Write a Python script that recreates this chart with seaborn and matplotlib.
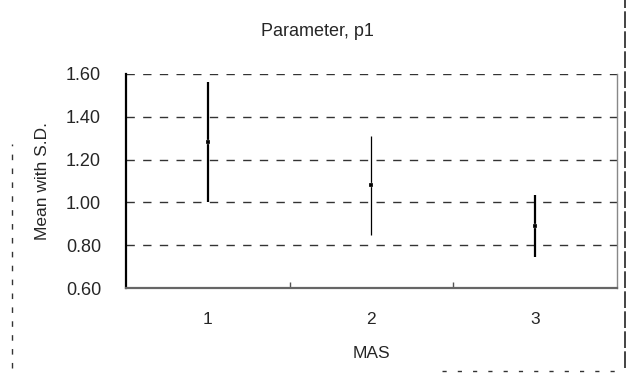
import matplotlib
matplotlib.use("Agg")
import matplotlib.pyplot as plt
import seaborn as sns
import pandas as pd
from matplotlib.lines import Line2D

categories = ["1", "2", "3"]
means = [1.28, 1.08, 0.89]
sds = [0.28, 0.23, 0.145]
y_ticks = [0.60, 0.80, 1.00, 1.20, 1.40, 1.60]

sns.set_theme(style="white")
plt.rcParams["font.family"] = ["Liberation Sans", "DejaVu Sans"]

df = pd.DataFrame({"MAS": categories, "mean": means, "sd": sds})

fig = plt.figure(figsize=(6.32, 3.79), dpi=100)
ax = fig.add_axes([0.1994, 0.240, 0.7766, 0.565])

for y in y_ticks[1:]:
    ax.axhline(y, color="#333333", lw=1.0, ls=(0, (6, 6)), zorder=0)

eb = ax.errorbar(range(len(categories)), df["mean"], yerr=df["sd"], fmt="none",
                 ecolor="black", elinewidth=1.4, capsize=0, zorder=3)
eb[2][0].set_linewidths([1.6, 0.9, 1.6])
sns.scatterplot(data=df, x="MAS", y="mean", ax=ax, color="black", s=5,
                marker="s", zorder=4, legend=False)

ax.set_xlim(-0.5, 2.5)
ax.set_ylim(0.60, 1.60)
ax.set_yticks(y_ticks)
ax.set_yticklabels([f"{v:.2f}" for v in y_ticks], fontsize=13)
ax.set_xticks(range(len(categories)))
ax.set_xticklabels(categories, fontsize=12.5)
ax.set_xticks([0.5, 1.5], minor=True)
ax.tick_params(axis="x", which="major", length=0, pad=17)
ax.tick_params(axis="x", which="minor", direction="in", length=4, color="#555555", bottom=True)
ax.tick_params(axis="y", length=0, pad=18)

ax.spines["top"].set_visible(False)
ax.spines["left"].set_color("black")
ax.spines["left"].set_linewidth(1.6)
ax.spines["bottom"].set_color("#666666")
ax.spines["bottom"].set_linewidth(1.6)
ax.spines["right"].set_color("#888888")
ax.spines["right"].set_linewidth(1.0)

ax.set_xlabel("MAS", fontsize=12.5, labelpad=14)
ax.set_ylabel("Mean with S.D.", fontsize=12.5, labelpad=11)
fig.text(0.502, 0.916, "Parameter, p1", ha="center", va="center", fontsize=13)

# scan frame remnants
fig.add_artist(Line2D([0.019, 0.019], [0.03, 0.62], transform=fig.transFigure,
                      color="#333333", lw=1.0, ls=(0, (4, 6))))
fig.add_artist(Line2D([0.989, 0.989], [0.03, 1.0], transform=fig.transFigure,
                      color="#222222", lw=1.2, ls=(0, (10, 2))))
fig.add_artist(Line2D([0.70, 0.989], [0.022, 0.022], transform=fig.transFigure,
                      color="#333333", lw=1.0, ls=(0, (3, 8))))

fig.savefig("out.png", dpi=100)
